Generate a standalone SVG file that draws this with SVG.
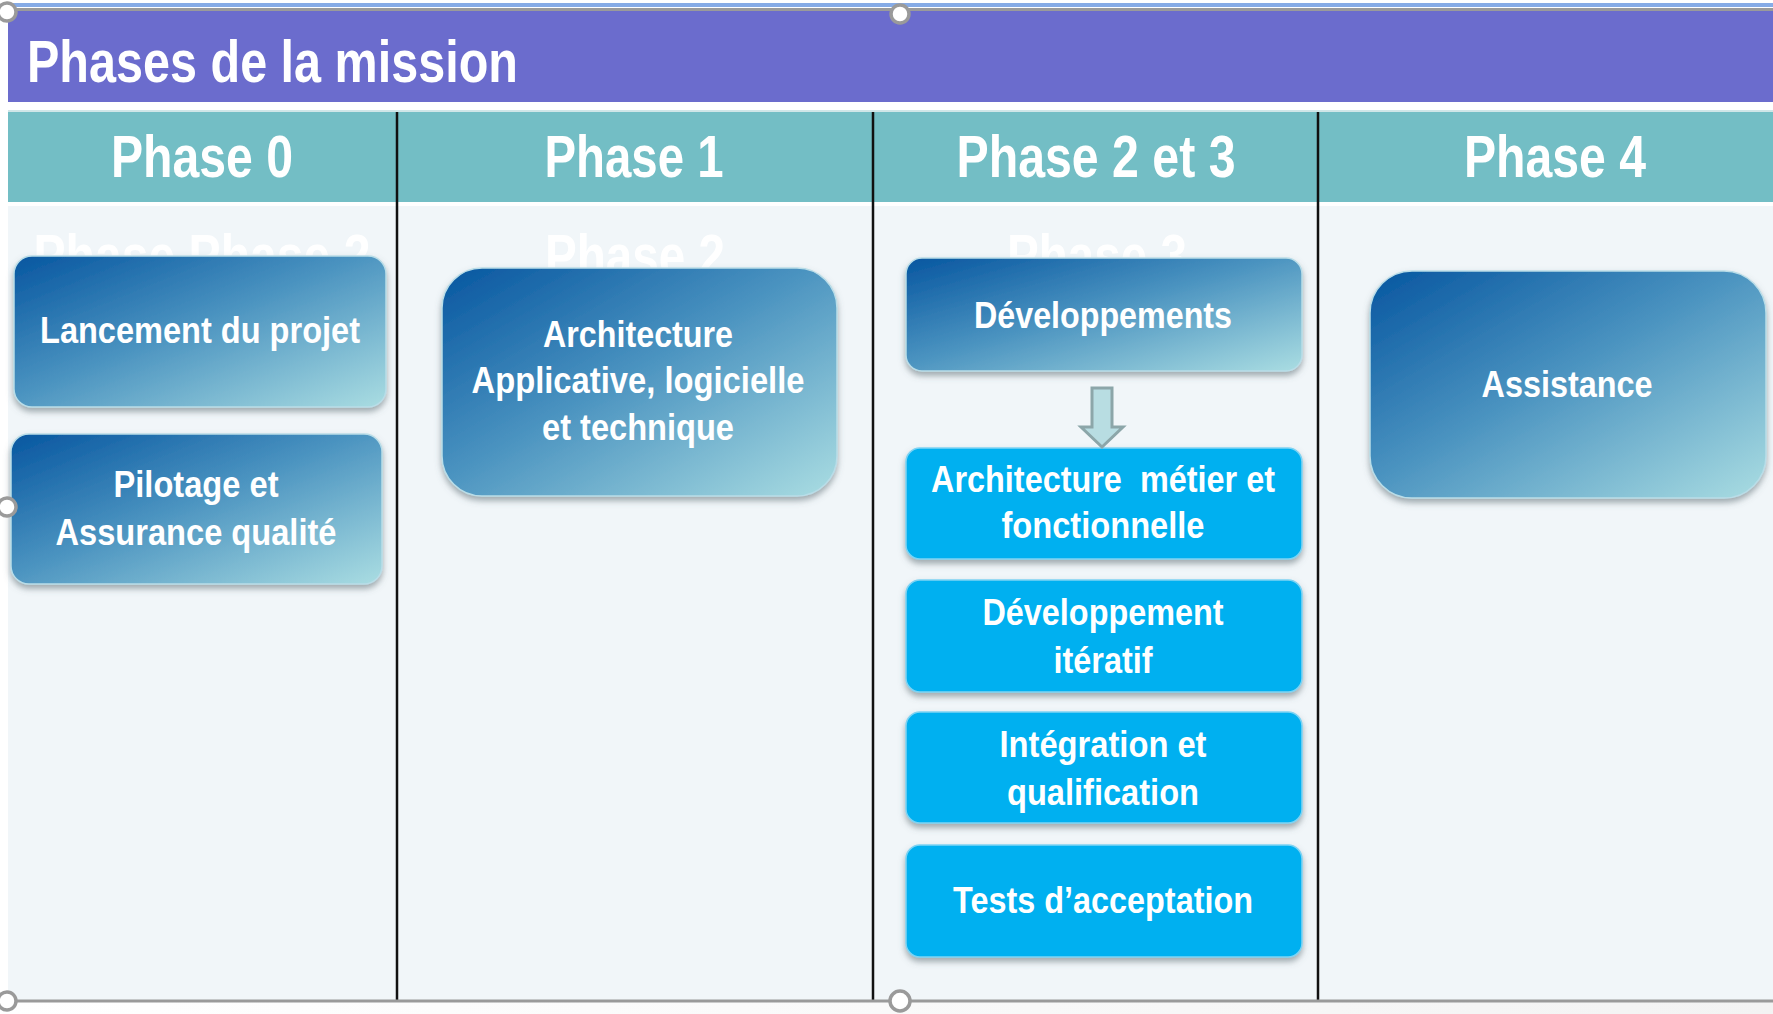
<svg xmlns="http://www.w3.org/2000/svg" width="1773" height="1014" viewBox="0 0 1773 1014">
<defs>
  <linearGradient id="blueGrad" x1="0" y1="0" x2="1" y2="1">
    <stop offset="0" stop-color="#0756a0"/>
    <stop offset="0.45" stop-color="#4891bf"/>
    <stop offset="1" stop-color="#aadde2"/>
  </linearGradient>
  <linearGradient id="bottomGrad" x1="0" y1="0" x2="1" y2="0">
    <stop offset="0" stop-color="#ffffff"/>
    <stop offset="1" stop-color="#f3f3f3"/>
  </linearGradient>
  <filter id="shadow" x="-10%" y="-10%" width="120%" height="130%">
    <feDropShadow dx="0" dy="4" stdDeviation="3" flood-color="#5a6a70" flood-opacity="0.55"/>
  </filter>
</defs>
<style>
  .t { font-family: "Liberation Sans Narrow", "Liberation Sans", Arial, sans-serif; font-weight: bold; fill: #ffffff; }
  .hdr { font-size: 60px; text-anchor: middle; }
  .title { font-size: 60px; }
  .ghost { font-size: 60px; text-anchor: middle; fill: #ffffff; }
  .bt { font-size: 36px; text-anchor: middle; }
  .bbox { fill: url(#blueGrad); stroke: #b9dde8; stroke-width: 1.5; filter: url(#shadow); }
  .cbox { fill: #00b0f0; stroke: #7dd3f3; stroke-width: 1.5; filter: url(#shadow); }
  .div { stroke: #111111; stroke-width: 2.5; }
  .handle { fill: #ffffff; stroke: #9a9a9a; stroke-width: 3.5; }
</style>

<rect x="0" y="0" width="1773" height="1014" fill="#ffffff"/>
<rect x="0" y="1001" width="1773" height="13" fill="url(#bottomGrad)"/>

<g id="background">
  <rect x="8" y="3" width="1765" height="4" fill="#86abe6"/>
  <rect x="8" y="8" width="1765" height="3" fill="#9a9a9a"/>
  <rect x="8" y="11" width="1765" height="91" fill="#6b6ccd"/>
  <rect x="8" y="110" width="1765" height="2" fill="#cfe6e8"/>
  <rect x="8" y="112" width="1765" height="90" fill="#73bec5"/>
  <rect x="8" y="202" width="1765" height="4" fill="#ffffff"/>
  <rect x="8" y="206" width="1765" height="795" fill="#f1f6f9"/>
  <line class="div" x1="397" y1="112" x2="397" y2="1001"/>
  <line class="div" x1="873" y1="112" x2="873" y2="1001"/>
  <line class="div" x1="1318" y1="112" x2="1318" y2="1001"/>
  <line x1="8" y1="1001" x2="1773" y2="1001" stroke="#9a9a9a" stroke-width="3"/>
</g>

<g id="title">
  <text class="t title" x="27" y="82" textLength="491" lengthAdjust="spacingAndGlyphs">Phases de la mission</text>
</g>

<g id="headers">
  <text class="t hdr" x="202" y="177" textLength="182" lengthAdjust="spacingAndGlyphs">Phase 0</text>
  <text class="t hdr" x="634" y="177" textLength="179" lengthAdjust="spacingAndGlyphs">Phase 1</text>
  <text class="t hdr" x="1096" y="177" textLength="279" lengthAdjust="spacingAndGlyphs">Phase 2 et 3</text>
  <text class="t hdr" x="1555" y="177" textLength="182" lengthAdjust="spacingAndGlyphs">Phase 4</text>
</g>

<g id="ghost-labels">
  <text class="t ghost" x="202" y="276" textLength="337" lengthAdjust="spacingAndGlyphs">Phase Phase 2</text>
  <text class="t ghost" x="635" y="276" textLength="180" lengthAdjust="spacingAndGlyphs">Phase 2</text>
  <text class="t ghost" x="1097" y="276" textLength="180" lengthAdjust="spacingAndGlyphs">Phase 3</text>
</g>

<g id="node-lancement">
  <rect class="bbox" x="14" y="256" width="372" height="151" rx="18"/>
  <text class="t bt" x="200" y="343" textLength="320" lengthAdjust="spacingAndGlyphs">Lancement du projet</text>
</g>

<g id="node-pilotage">
  <rect class="bbox" x="11" y="434" width="371" height="150" rx="18"/>
  <text class="t bt" x="196" y="497" textLength="165" lengthAdjust="spacingAndGlyphs">Pilotage et</text>
  <text class="t bt" x="196" y="545" textLength="281" lengthAdjust="spacingAndGlyphs">Assurance qualité</text>
</g>

<g id="node-architecture-applicative">
  <rect class="bbox" x="442" y="268" width="395" height="228" rx="40"/>
  <text class="t bt" x="638" y="347" textLength="190" lengthAdjust="spacingAndGlyphs">Architecture</text>
  <text class="t bt" x="638" y="393" textLength="333" lengthAdjust="spacingAndGlyphs">Applicative, logicielle</text>
  <text class="t bt" x="638" y="440" textLength="192" lengthAdjust="spacingAndGlyphs">et technique</text>
</g>

<g id="node-developpements">
  <rect class="bbox" x="906" y="258" width="396" height="113" rx="16"/>
  <text class="t bt" x="1103" y="328" textLength="258" lengthAdjust="spacingAndGlyphs">Développements</text>
</g>

<g id="node-architecture-metier">
  <rect class="cbox" x="906" y="448" width="396" height="111" rx="14"/>
  <text class="t bt" x="1103" y="492" textLength="344" lengthAdjust="spacingAndGlyphs" xml:space="preserve">Architecture  métier et</text>
  <text class="t bt" x="1103" y="538" textLength="203" lengthAdjust="spacingAndGlyphs">fonctionnelle</text>
</g>

<g id="node-developpement-iteratif">
  <rect class="cbox" x="906" y="580" width="396" height="112" rx="14"/>
  <text class="t bt" x="1103" y="625" textLength="241" lengthAdjust="spacingAndGlyphs">Développement</text>
  <text class="t bt" x="1103" y="673" textLength="99" lengthAdjust="spacingAndGlyphs">itératif</text>
</g>

<g id="node-integration">
  <rect class="cbox" x="906" y="712" width="396" height="111" rx="14"/>
  <text class="t bt" x="1103" y="757" textLength="207" lengthAdjust="spacingAndGlyphs">Intégration et</text>
  <text class="t bt" x="1103" y="805" textLength="192" lengthAdjust="spacingAndGlyphs">qualification</text>
</g>

<g id="node-tests">
  <rect class="cbox" x="906" y="845" width="396" height="112" rx="14"/>
  <text class="t bt" x="1103" y="913" textLength="300" lengthAdjust="spacingAndGlyphs">Tests d’acceptation</text>
</g>

<g id="node-assistance">
  <rect class="bbox" x="1370" y="271" width="396" height="227" rx="42"/>
  <text class="t bt" x="1567" y="397" textLength="171" lengthAdjust="spacingAndGlyphs">Assistance</text>
</g>

<g id="connectors">
  <path d="M1092,388 L1112,388 L1112,427 L1123,427 L1102,447 L1081,427 L1092,427 Z" fill="#b8dde2" stroke="#8ca6a9" stroke-width="3" stroke-linejoin="miter"/>
</g>

<g id="handles">
  <circle class="handle" cx="7" cy="12" r="9"/>
  <circle class="handle" cx="900" cy="14" r="9"/>
  <circle class="handle" cx="7" cy="507" r="9"/>
  <circle class="handle" cx="7" cy="1001" r="9"/>
  <circle class="handle" cx="900" cy="1001" r="10"/>
</g>
</svg>
